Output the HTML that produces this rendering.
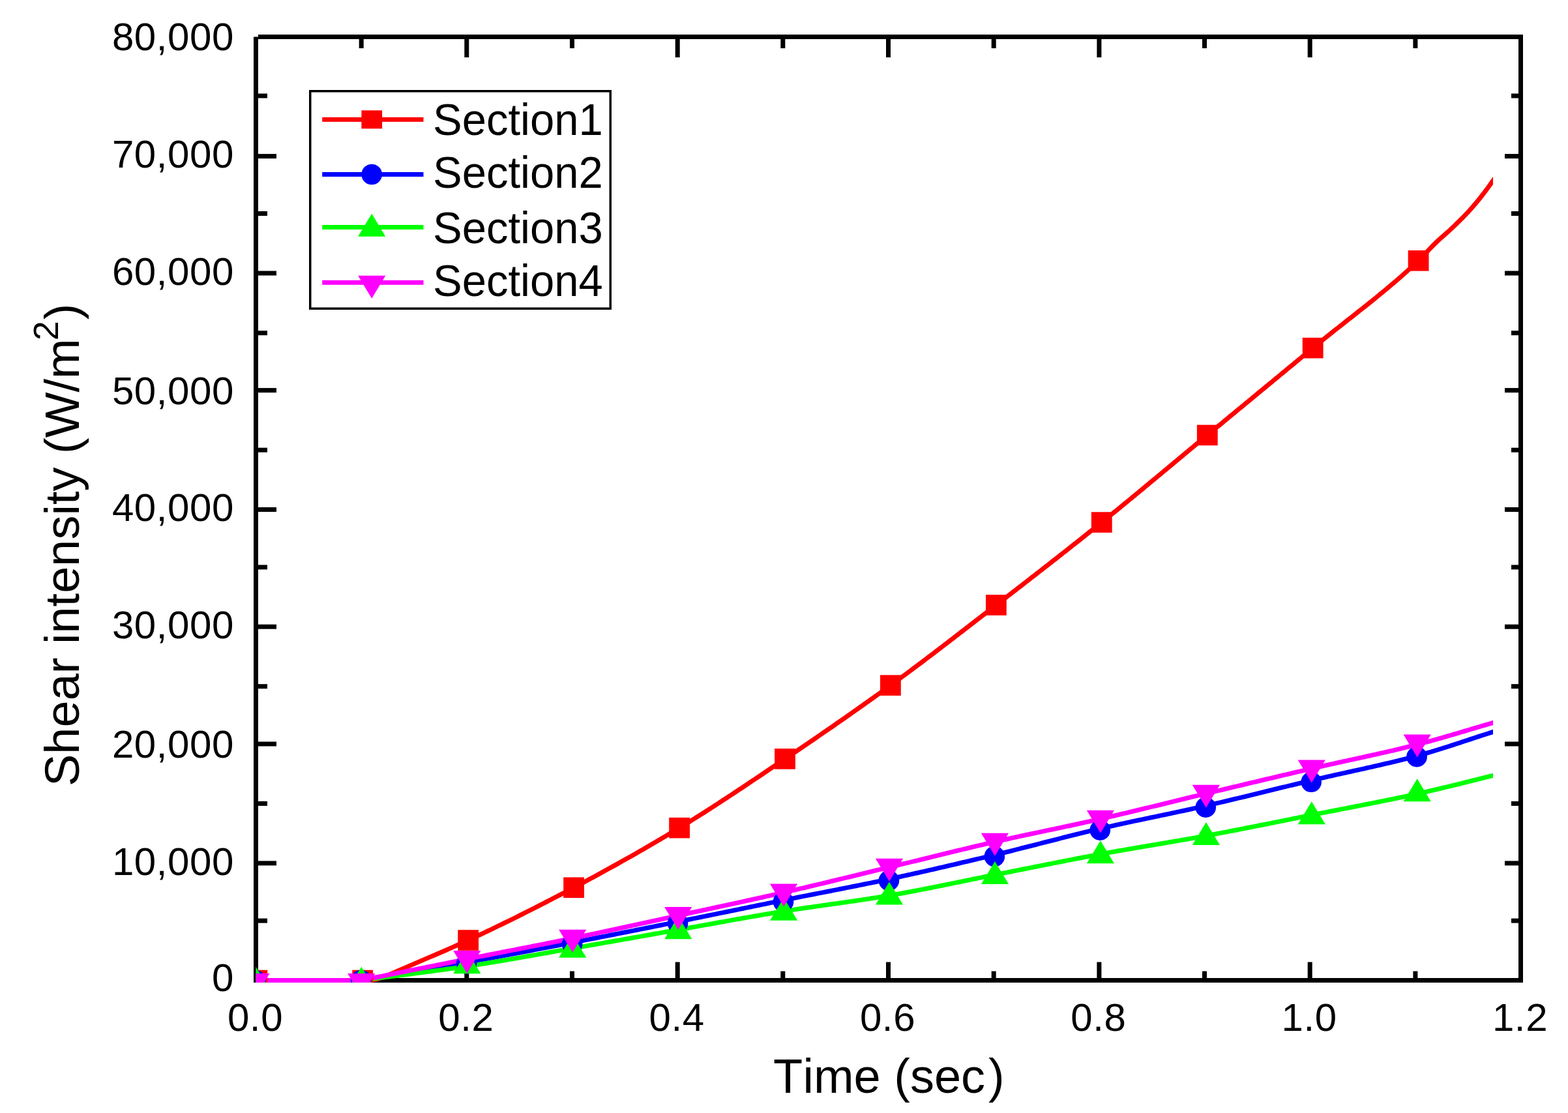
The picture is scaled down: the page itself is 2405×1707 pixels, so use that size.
<!DOCTYPE html>
<html><head><meta charset="utf-8"><title>Shear intensity vs time</title>
<style>html,body{margin:0;padding:0;background:#fff;overflow:hidden}svg{display:block}</style>
</head><body>
<svg width="2405" height="1707" viewBox="0 0 2405 1707">
<rect x="0" y="0" width="2405" height="1707" fill="#fff"/>
<g fill="#000">
<rect x="389" y="56.5" width="7" height="1450.5"/>
<rect x="396" y="53" width="1940" height="7"/>
<rect x="2329" y="53" width="7" height="1454"/>
<rect x="389" y="1500" width="1947" height="7"/>
<rect x="396" y="1408.6" width="14" height="7"/>
<rect x="2318" y="1408.6" width="11" height="7"/>
<rect x="396" y="1320.4" width="28" height="7"/>
<rect x="2308" y="1320.4" width="21" height="7"/>
<rect x="396" y="1228.9" width="14" height="7"/>
<rect x="2318" y="1228.9" width="11" height="7"/>
<rect x="396" y="1137.5" width="28" height="7"/>
<rect x="2308" y="1137.5" width="21" height="7"/>
<rect x="396" y="1049.2" width="14" height="7"/>
<rect x="2318" y="1049.2" width="11" height="7"/>
<rect x="396" y="957.7" width="28" height="7"/>
<rect x="2308" y="957.7" width="21" height="7"/>
<rect x="396" y="866.4" width="14" height="7"/>
<rect x="2318" y="866.4" width="11" height="7"/>
<rect x="396" y="778.0" width="28" height="7"/>
<rect x="2308" y="778.0" width="21" height="7"/>
<rect x="396" y="686.7" width="14" height="7"/>
<rect x="2318" y="686.7" width="11" height="7"/>
<rect x="396" y="595.1" width="28" height="7"/>
<rect x="2308" y="595.1" width="21" height="7"/>
<rect x="396" y="507.2" width="14" height="7"/>
<rect x="2318" y="507.2" width="11" height="7"/>
<rect x="396" y="415.5" width="28" height="7"/>
<rect x="2308" y="415.5" width="21" height="7"/>
<rect x="396" y="324.0" width="14" height="7"/>
<rect x="2318" y="324.0" width="11" height="7"/>
<rect x="396" y="236.1" width="28" height="7"/>
<rect x="2308" y="236.1" width="21" height="7"/>
<rect x="396" y="143.5" width="14" height="7"/>
<rect x="2318" y="143.5" width="11" height="7"/>
<rect x="550.7" y="60" width="7" height="14"/>
<rect x="550.7" y="1489.5" width="7" height="10.5"/>
<rect x="712.3" y="60" width="7" height="28"/>
<rect x="712.3" y="1475.5" width="7" height="24.5"/>
<rect x="874.0" y="60" width="7" height="14"/>
<rect x="874.0" y="1489.5" width="7" height="10.5"/>
<rect x="1035.7" y="60" width="7" height="28"/>
<rect x="1035.7" y="1475.5" width="7" height="24.5"/>
<rect x="1197.3" y="60" width="7" height="14"/>
<rect x="1197.3" y="1489.5" width="7" height="10.5"/>
<rect x="1359.0" y="60" width="7" height="28"/>
<rect x="1359.0" y="1475.5" width="7" height="24.5"/>
<rect x="1520.7" y="60" width="7" height="14"/>
<rect x="1520.7" y="1489.5" width="7" height="10.5"/>
<rect x="1682.4" y="60" width="7" height="28"/>
<rect x="1682.4" y="1475.5" width="7" height="24.5"/>
<rect x="1844.0" y="60" width="7" height="14"/>
<rect x="1844.0" y="1489.5" width="7" height="10.5"/>
<rect x="2005.7" y="60" width="7" height="28"/>
<rect x="2005.7" y="1475.5" width="7" height="24.5"/>
<rect x="2167.4" y="60" width="7" height="14"/>
<rect x="2167.4" y="1489.5" width="7" height="10.5"/>
</g>
<defs><clipPath id="pc"><rect x="392.5" y="56.5" width="1940" height="1450.5"/></clipPath><clipPath id="lc"><rect x="392.5" y="56.5" width="1897.5" height="1450.5"/></clipPath></defs>
<g clip-path="url(#lc)" stroke="none">
<polygon fill="#ff0000" points="392.50,1500.00 556.24,1500.00 560.18,1499.89 564.12,1499.80 568.06,1499.68 572.00,1499.48 576.33,1498.69 580.67,1497.29 585.00,1495.80 588.75,1494.44 592.50,1492.90 596.25,1491.29 600.00,1489.69 604.17,1487.88 608.33,1486.02 612.50,1484.18 616.56,1482.41 620.63,1480.64 624.69,1478.89 628.76,1477.14 632.82,1475.39 636.89,1473.65 640.95,1471.92 645.02,1470.18 649.08,1468.45 653.15,1466.72 657.21,1464.99 661.28,1463.25 665.34,1461.51 669.40,1459.77 673.47,1458.02 677.53,1456.27 681.60,1454.51 685.66,1452.74 689.73,1450.96 693.79,1449.17 697.86,1447.37 701.92,1445.55 705.99,1443.72 710.05,1441.88 714.12,1440.02 718.18,1438.14 722.23,1436.26 726.28,1434.38 730.33,1432.48 734.37,1430.58 738.42,1428.67 742.47,1426.75 746.52,1424.82 750.57,1422.89 754.62,1420.95 758.67,1419.00 762.71,1417.04 766.76,1415.07 770.81,1413.10 774.86,1411.12 778.91,1409.14 782.96,1407.14 787.00,1405.14 791.05,1403.14 795.10,1401.12 799.15,1399.10 803.20,1397.07 807.25,1395.04 811.30,1393.00 815.34,1390.95 819.39,1388.90 823.44,1386.83 827.49,1384.77 831.54,1382.69 835.59,1380.61 839.63,1378.53 843.68,1376.44 847.73,1374.34 851.78,1372.23 855.83,1370.12 859.88,1368.01 863.93,1365.88 867.97,1363.76 872.02,1361.62 876.07,1359.48 880.12,1357.34 884.17,1355.19 888.22,1353.03 892.27,1350.87 896.31,1348.70 900.36,1346.52 904.41,1344.34 908.46,1342.15 912.51,1339.95 916.56,1337.75 920.61,1335.54 924.65,1333.32 928.70,1331.09 932.75,1328.86 936.80,1326.62 940.85,1324.37 944.90,1322.12 948.94,1319.86 952.99,1317.59 957.04,1315.31 961.09,1313.03 965.14,1310.74 969.19,1308.44 973.24,1306.13 977.28,1303.81 981.33,1301.49 985.38,1299.16 989.43,1296.82 993.48,1294.47 997.53,1292.11 1001.58,1289.74 1005.62,1287.37 1009.67,1284.99 1013.72,1282.60 1017.77,1280.20 1021.82,1277.79 1025.87,1275.37 1029.91,1272.94 1033.96,1270.51 1038.01,1268.06 1042.06,1265.61 1046.11,1263.14 1050.16,1260.66 1054.21,1258.16 1058.25,1255.65 1062.30,1253.13 1066.35,1250.59 1070.40,1248.04 1074.45,1245.48 1078.50,1242.91 1082.55,1240.33 1086.59,1237.73 1090.64,1235.13 1094.69,1232.52 1098.74,1229.89 1102.79,1227.26 1106.84,1224.62 1110.88,1221.97 1114.93,1219.32 1118.98,1216.65 1123.03,1213.98 1127.08,1211.30 1131.13,1208.62 1135.18,1205.93 1139.22,1203.23 1143.27,1200.53 1147.32,1197.83 1151.37,1195.12 1155.42,1192.40 1159.47,1189.69 1163.52,1186.97 1167.56,1184.24 1171.61,1181.52 1175.66,1178.79 1179.71,1176.06 1183.76,1173.33 1187.81,1170.60 1191.85,1167.87 1195.90,1165.14 1199.95,1162.41 1204.00,1159.68 1208.05,1156.95 1212.10,1154.21 1216.15,1151.47 1220.19,1148.73 1224.24,1145.98 1228.29,1143.23 1232.34,1140.48 1236.39,1137.73 1240.44,1134.97 1244.49,1132.20 1248.53,1129.43 1252.58,1126.66 1256.63,1123.88 1260.68,1121.10 1264.73,1118.31 1268.78,1115.52 1272.82,1112.73 1276.87,1109.92 1280.92,1107.12 1284.97,1104.31 1289.02,1101.49 1293.07,1098.67 1297.12,1095.84 1301.16,1093.00 1305.21,1090.16 1309.26,1087.32 1313.31,1084.47 1317.36,1081.61 1321.41,1078.74 1325.45,1075.87 1329.50,1072.99 1333.55,1070.11 1337.60,1067.22 1341.65,1064.32 1345.70,1061.41 1349.75,1058.50 1353.79,1055.58 1357.84,1052.65 1361.89,1049.72 1365.94,1046.77 1369.99,1043.82 1374.04,1040.85 1378.09,1037.88 1382.13,1034.89 1386.18,1031.90 1390.23,1028.90 1394.28,1025.88 1398.33,1022.86 1402.38,1019.83 1406.42,1016.79 1410.47,1013.75 1414.52,1010.69 1418.57,1007.63 1422.62,1004.57 1426.67,1001.50 1430.72,998.42 1434.76,995.33 1438.81,992.24 1442.86,989.15 1446.91,986.05 1450.96,982.94 1455.01,979.84 1459.06,976.72 1463.10,973.61 1467.15,970.49 1471.20,967.37 1475.25,964.25 1479.30,961.12 1483.35,958.00 1487.39,954.87 1491.44,951.74 1495.49,948.61 1499.54,945.48 1503.59,942.35 1507.64,939.22 1511.69,936.09 1515.73,932.96 1519.78,929.83 1523.83,926.70 1527.88,923.58 1531.93,920.45 1535.98,917.33 1540.03,914.20 1544.07,911.07 1548.12,907.94 1552.17,904.81 1556.22,901.68 1560.27,898.55 1564.32,895.41 1568.37,892.27 1572.41,889.13 1576.46,885.99 1580.51,882.85 1584.56,879.70 1588.61,876.55 1592.66,873.40 1596.70,870.25 1600.75,867.09 1604.80,863.93 1608.85,860.76 1612.90,857.60 1616.95,854.42 1621.00,851.25 1625.04,848.07 1629.09,844.89 1633.14,841.70 1637.19,838.51 1641.24,835.32 1645.29,832.12 1649.34,828.92 1653.38,825.71 1657.43,822.50 1661.48,819.28 1665.53,816.06 1669.58,812.83 1673.63,809.60 1677.67,806.36 1681.72,803.11 1685.77,799.86 1689.82,796.61 1693.87,793.34 1697.92,790.07 1701.97,786.79 1706.01,783.50 1710.06,780.21 1714.11,776.91 1718.16,773.60 1722.21,770.28 1726.26,766.96 1730.31,763.64 1734.35,760.30 1738.40,756.97 1742.45,753.63 1746.50,750.28 1750.55,746.93 1754.60,743.58 1758.64,740.22 1762.69,736.86 1766.74,733.50 1770.79,730.14 1774.84,726.77 1778.89,723.40 1782.94,720.03 1786.98,716.66 1791.03,713.29 1795.08,709.92 1799.13,706.55 1803.18,703.18 1807.23,699.80 1811.28,696.43 1815.32,693.07 1819.37,689.70 1823.42,686.33 1827.47,682.97 1831.52,679.61 1835.57,676.25 1839.61,672.90 1843.66,669.55 1847.71,666.20 1851.76,662.86 1855.81,659.52 1859.86,656.18 1863.91,652.83 1867.95,649.49 1872.00,646.15 1876.05,642.81 1880.10,639.47 1884.15,636.12 1888.20,632.78 1892.24,629.44 1896.29,626.10 1900.34,622.76 1904.39,619.42 1908.44,616.07 1912.49,612.73 1916.54,609.39 1920.58,606.05 1924.63,602.71 1928.68,599.37 1932.73,596.02 1936.78,592.68 1940.83,589.34 1944.88,586.00 1948.92,582.66 1952.97,579.31 1957.02,575.97 1961.07,572.63 1965.12,569.29 1969.17,565.94 1973.22,562.60 1977.26,559.26 1981.31,555.91 1985.36,552.57 1989.41,549.23 1993.46,545.88 1997.51,542.54 2001.55,539.19 2005.60,535.85 2009.65,532.50 2013.70,529.16 2017.75,525.84 2021.80,522.54 2025.85,519.26 2029.89,516.00 2033.94,512.75 2037.99,509.52 2042.04,506.29 2046.09,503.08 2050.14,499.88 2054.18,496.68 2058.23,493.49 2062.28,490.31 2066.33,487.12 2070.38,483.93 2074.43,480.74 2078.48,477.55 2082.52,474.35 2086.57,471.14 2090.62,467.93 2094.67,464.70 2098.72,461.46 2102.77,458.20 2106.82,454.93 2110.86,451.64 2114.91,448.33 2118.96,444.99 2123.01,441.64 2127.06,438.25 2131.11,434.84 2135.16,431.40 2139.20,427.93 2143.25,424.43 2147.30,420.89 2151.35,417.31 2155.40,413.70 2159.45,410.04 2163.49,406.34 2167.54,402.60 2171.59,398.82 2175.64,394.94 2179.87,390.66 2184.09,386.16 2188.32,381.59 2192.55,377.07 2196.77,372.72 2201.00,368.61 2204.86,365.07 2208.71,361.62 2212.57,358.22 2216.43,354.83 2220.29,351.39 2224.14,347.85 2228.00,344.18 2231.67,340.62 2235.33,337.03 2239.00,333.37 2242.67,329.64 2246.33,325.81 2250.00,321.88 2253.75,317.73 2257.50,313.46 2261.25,309.06 2265.00,304.52 2269.33,299.08 2273.67,293.45 2278.00,287.68 2282.00,282.16 2286.00,276.56 2290.00,271.03 2294.00,265.55 2298.00,260.05 2298.00,271.95 2294.00,277.45 2290.00,282.97 2286.00,288.53 2282.00,294.03 2278.00,299.32 2273.67,304.88 2269.33,310.29 2265.00,315.48 2261.25,319.81 2257.50,324.04 2253.75,328.14 2250.00,332.12 2246.33,335.91 2242.67,339.62 2239.00,343.25 2235.33,346.82 2231.67,350.35 2228.00,353.82 2224.14,357.35 2220.29,360.78 2216.43,364.17 2212.57,367.57 2208.71,371.04 2204.86,374.63 2201.00,378.39 2196.77,382.75 2192.55,387.29 2188.32,391.85 2184.09,396.34 2179.87,400.62 2175.64,404.66 2171.59,408.40 2167.54,412.13 2163.49,415.82 2159.45,419.47 2155.40,423.08 2151.35,426.65 2147.30,430.18 2143.25,433.68 2139.20,437.15 2135.16,440.59 2131.11,443.99 2127.06,447.37 2123.01,450.73 2118.96,454.06 2114.91,457.37 2110.86,460.66 2106.82,463.93 2102.77,467.18 2098.72,470.42 2094.67,473.65 2090.62,476.87 2086.57,480.07 2082.52,483.27 2078.48,486.47 2074.43,489.65 2070.38,492.84 2066.33,496.03 2062.28,499.22 2058.23,502.41 2054.18,505.60 2050.14,508.81 2046.09,512.02 2042.04,515.24 2037.99,518.47 2033.94,521.72 2029.89,524.99 2025.85,528.27 2021.80,531.57 2017.75,534.89 2013.70,538.24 2009.65,541.58 2005.60,544.93 2001.55,548.27 1997.51,551.62 1993.46,554.96 1989.41,558.31 1985.36,561.65 1981.31,564.99 1977.26,568.34 1973.22,571.68 1969.17,575.02 1965.12,578.36 1961.07,581.71 1957.02,585.05 1952.97,588.39 1948.92,591.73 1944.88,595.08 1940.83,598.42 1936.78,601.76 1932.73,605.10 1928.68,608.44 1924.63,611.78 1920.58,615.13 1916.54,618.47 1912.49,621.81 1908.44,625.15 1904.39,628.49 1900.34,631.83 1896.29,635.18 1892.24,638.52 1888.20,641.86 1884.15,645.20 1880.10,648.54 1876.05,651.89 1872.00,655.23 1867.95,658.57 1863.91,661.91 1859.86,665.25 1855.81,668.60 1851.76,671.94 1847.71,675.29 1843.66,678.64 1839.61,681.99 1835.57,685.35 1831.52,688.71 1827.47,692.07 1823.42,695.44 1819.37,698.80 1815.32,702.17 1811.28,705.54 1807.23,708.91 1803.18,712.28 1799.13,715.66 1795.08,719.03 1791.03,722.40 1786.98,725.77 1782.94,729.14 1778.89,732.51 1774.84,735.87 1770.79,739.24 1766.74,742.60 1762.69,745.96 1758.64,749.31 1754.60,752.67 1750.55,756.02 1746.50,759.36 1742.45,762.70 1738.40,766.04 1734.35,769.37 1730.31,772.70 1726.26,776.02 1722.21,779.33 1718.16,782.64 1714.11,785.94 1710.06,789.23 1706.01,792.52 1701.97,795.80 1697.92,799.07 1693.87,802.34 1689.82,805.59 1685.77,808.84 1681.72,812.08 1677.67,815.32 1673.63,818.55 1669.58,821.78 1665.53,825.00 1661.48,828.22 1657.43,831.43 1653.38,834.64 1649.34,837.84 1645.29,841.04 1641.24,844.24 1637.19,847.43 1633.14,850.61 1629.09,853.79 1625.04,856.97 1621.00,860.15 1616.95,863.32 1612.90,866.48 1608.85,869.65 1604.80,872.81 1600.75,875.97 1596.70,879.12 1592.66,882.27 1588.61,885.42 1584.56,888.57 1580.51,891.71 1576.46,894.85 1572.41,897.99 1568.37,901.13 1564.32,904.27 1560.27,907.40 1556.22,910.53 1552.17,913.66 1548.12,916.79 1544.07,919.92 1540.03,923.05 1535.98,926.17 1531.93,929.30 1527.88,932.42 1523.83,935.55 1519.78,938.67 1515.73,941.80 1511.69,944.93 1507.64,948.06 1503.59,951.19 1499.54,954.33 1495.49,957.46 1491.44,960.58 1487.39,963.71 1483.35,966.84 1479.30,969.97 1475.25,973.09 1471.20,976.21 1467.15,979.33 1463.10,982.44 1459.06,985.55 1455.01,988.66 1450.96,991.76 1446.91,994.86 1442.86,997.96 1438.81,1001.05 1434.76,1004.13 1430.72,1007.21 1426.67,1010.28 1422.62,1013.35 1418.57,1016.41 1414.52,1019.46 1410.47,1022.51 1406.42,1025.54 1402.38,1028.57 1398.33,1031.60 1394.28,1034.61 1390.23,1037.61 1386.18,1040.61 1382.13,1043.59 1378.09,1046.57 1374.04,1049.53 1369.99,1052.48 1365.94,1055.43 1361.89,1058.36 1357.84,1061.29 1353.79,1064.21 1349.75,1067.12 1345.70,1070.03 1341.65,1072.93 1337.60,1075.82 1333.55,1078.70 1329.50,1081.58 1325.45,1084.45 1321.41,1087.32 1317.36,1090.18 1313.31,1093.03 1309.26,1095.87 1305.21,1098.71 1301.16,1101.55 1297.12,1104.38 1293.07,1107.20 1289.02,1110.02 1284.97,1112.83 1280.92,1115.64 1276.87,1118.44 1272.82,1121.23 1268.78,1124.02 1264.73,1126.81 1260.68,1129.59 1256.63,1132.37 1252.58,1135.14 1248.53,1137.91 1244.49,1140.68 1240.44,1143.44 1236.39,1146.19 1232.34,1148.95 1228.29,1151.70 1224.24,1154.44 1220.19,1157.18 1216.15,1159.92 1212.10,1162.66 1208.05,1165.39 1204.00,1168.12 1199.95,1170.85 1195.90,1173.58 1191.85,1176.31 1187.81,1179.04 1183.76,1181.77 1179.71,1184.50 1175.66,1187.23 1171.61,1189.96 1167.56,1192.68 1163.52,1195.40 1159.47,1198.12 1155.42,1200.83 1151.37,1203.54 1147.32,1206.25 1143.27,1208.95 1139.22,1211.64 1135.18,1214.33 1131.13,1217.02 1127.08,1219.70 1123.03,1222.37 1118.98,1225.03 1114.93,1227.69 1110.88,1230.34 1106.84,1232.98 1102.79,1235.61 1098.74,1238.24 1094.69,1240.85 1090.64,1243.45 1086.59,1246.05 1082.55,1248.63 1078.50,1251.20 1074.45,1253.76 1070.40,1256.31 1066.35,1258.85 1062.30,1261.37 1058.25,1263.89 1054.21,1266.38 1050.16,1268.87 1046.11,1271.34 1042.06,1273.79 1038.01,1276.24 1033.96,1278.68 1029.91,1281.10 1025.87,1283.52 1021.82,1285.93 1017.77,1288.33 1013.72,1290.73 1009.67,1293.11 1005.62,1295.49 1001.58,1297.85 997.53,1300.21 993.48,1302.56 989.43,1304.90 985.38,1307.24 981.33,1309.56 977.28,1311.88 973.24,1314.19 969.19,1316.49 965.14,1318.78 961.09,1321.07 957.04,1323.34 952.99,1325.62 948.94,1327.88 944.90,1330.13 940.85,1332.38 936.80,1334.62 932.75,1336.85 928.70,1339.08 924.65,1341.30 920.61,1343.51 916.56,1345.72 912.51,1347.91 908.46,1350.11 904.41,1352.29 900.36,1354.47 896.31,1356.64 892.27,1358.80 888.22,1360.96 884.17,1363.12 880.12,1365.26 876.07,1367.40 872.02,1369.54 867.97,1371.66 863.93,1373.79 859.88,1375.90 855.83,1378.02 851.78,1380.12 847.73,1382.22 843.68,1384.32 839.63,1386.40 835.59,1388.48 831.54,1390.56 827.49,1392.63 823.44,1394.69 819.39,1396.75 815.34,1398.80 811.30,1400.84 807.25,1402.87 803.20,1404.90 799.15,1406.93 795.10,1408.94 791.05,1410.95 787.00,1412.95 782.96,1414.95 778.91,1416.94 774.86,1418.92 770.81,1420.89 766.76,1422.86 762.71,1424.81 758.67,1426.77 754.62,1428.71 750.57,1430.65 746.52,1432.57 742.47,1434.50 738.42,1436.41 734.37,1438.31 730.33,1440.21 726.28,1442.10 722.23,1443.98 718.18,1445.86 714.12,1447.72 710.05,1449.57 705.99,1451.40 701.92,1453.22 697.86,1455.03 693.79,1456.82 689.73,1458.60 685.66,1460.38 681.60,1462.14 677.53,1463.89 673.47,1465.64 669.40,1467.39 665.34,1469.13 661.28,1470.86 657.21,1472.60 653.15,1474.33 649.08,1476.06 645.02,1477.79 640.95,1479.53 636.89,1481.27 632.82,1483.01 628.76,1484.76 624.69,1486.51 620.63,1488.27 616.56,1490.04 612.50,1491.82 608.33,1493.68 604.17,1495.52 600.00,1497.31 596.25,1498.90 592.50,1500.47 588.75,1501.92 585.00,1503.20 580.67,1504.65 576.33,1505.88 572.00,1506.52 568.06,1506.69 564.12,1506.80 560.18,1506.90 556.24,1507.00 392.50,1507.00"/>
<polygon fill="#0000ff" points="392.50,1500.00 553.74,1499.99 557.79,1499.26 561.84,1498.58 565.89,1497.89 569.93,1497.21 573.98,1496.53 578.03,1495.85 582.08,1495.17 586.13,1494.49 590.18,1493.82 594.23,1493.14 598.27,1492.46 602.32,1491.79 606.37,1491.11 610.42,1490.43 614.47,1489.76 618.52,1489.08 622.56,1488.40 626.61,1487.72 630.66,1487.05 634.71,1486.37 638.76,1485.69 642.81,1485.01 646.86,1484.33 650.90,1483.64 654.95,1482.96 659.00,1482.27 663.05,1481.58 667.10,1480.90 671.15,1480.20 675.20,1479.51 679.24,1478.82 683.29,1478.12 687.34,1477.42 691.39,1476.72 695.44,1476.01 699.49,1475.30 703.53,1474.59 707.58,1473.88 711.63,1473.16 715.68,1472.44 719.73,1471.72 723.78,1471.00 727.83,1470.27 731.87,1469.54 735.92,1468.81 739.97,1468.07 744.02,1467.34 748.07,1466.60 752.12,1465.85 756.17,1465.11 760.21,1464.37 764.26,1463.62 768.31,1462.87 772.36,1462.12 776.41,1461.37 780.46,1460.61 784.50,1459.85 788.55,1459.10 792.60,1458.34 796.65,1457.58 800.70,1456.81 804.75,1456.05 808.80,1455.28 812.84,1454.52 816.89,1453.75 820.94,1452.98 824.99,1452.21 829.04,1451.44 833.09,1450.67 837.13,1449.90 841.18,1449.12 845.23,1448.35 849.28,1447.57 853.33,1446.80 857.38,1446.02 861.43,1445.25 865.47,1444.47 869.52,1443.69 873.57,1442.91 877.62,1442.14 881.67,1441.36 885.72,1440.58 889.77,1439.79 893.81,1439.01 897.86,1438.23 901.91,1437.44 905.96,1436.65 910.01,1435.86 914.06,1435.07 918.11,1434.28 922.15,1433.49 926.20,1432.69 930.25,1431.90 934.30,1431.10 938.35,1430.30 942.40,1429.51 946.44,1428.71 950.49,1427.91 954.54,1427.10 958.59,1426.30 962.64,1425.50 966.69,1424.70 970.74,1423.89 974.78,1423.09 978.83,1422.28 982.88,1421.47 986.93,1420.67 990.98,1419.86 995.03,1419.05 999.08,1418.24 1003.12,1417.43 1007.17,1416.62 1011.22,1415.81 1015.27,1415.00 1019.32,1414.19 1023.37,1413.38 1027.41,1412.57 1031.46,1411.75 1035.51,1410.94 1039.56,1410.13 1043.61,1409.32 1047.66,1408.50 1051.71,1407.69 1055.75,1406.87 1059.80,1406.05 1063.85,1405.23 1067.90,1404.41 1071.95,1403.58 1076.00,1402.76 1080.05,1401.94 1084.09,1401.11 1088.14,1400.28 1092.19,1399.46 1096.24,1398.63 1100.29,1397.80 1104.34,1396.97 1108.38,1396.14 1112.43,1395.31 1116.48,1394.48 1120.53,1393.65 1124.58,1392.82 1128.63,1391.99 1132.68,1391.16 1136.72,1390.33 1140.77,1389.50 1144.82,1388.67 1148.87,1387.84 1152.92,1387.01 1156.97,1386.19 1161.02,1385.36 1165.06,1384.53 1169.11,1383.71 1173.16,1382.88 1177.21,1382.06 1181.26,1381.23 1185.31,1380.41 1189.35,1379.59 1193.40,1378.77 1197.45,1377.95 1201.50,1377.13 1205.55,1376.31 1209.60,1375.50 1213.65,1374.69 1217.69,1373.89 1221.74,1373.08 1225.79,1372.28 1229.84,1371.48 1233.89,1370.68 1237.94,1369.89 1241.99,1369.09 1246.03,1368.30 1250.08,1367.51 1254.13,1366.72 1258.18,1365.92 1262.23,1365.13 1266.28,1364.34 1270.32,1363.55 1274.37,1362.76 1278.42,1361.96 1282.47,1361.17 1286.52,1360.37 1290.57,1359.58 1294.62,1358.78 1298.66,1357.98 1302.71,1357.18 1306.76,1356.37 1310.81,1355.56 1314.86,1354.75 1318.91,1353.94 1322.95,1353.12 1327.00,1352.30 1331.05,1351.48 1335.10,1350.65 1339.15,1349.82 1343.20,1348.98 1347.25,1348.14 1351.29,1347.29 1355.34,1346.44 1359.39,1345.58 1363.44,1344.72 1367.49,1343.85 1371.54,1342.98 1375.59,1342.11 1379.63,1341.23 1383.68,1340.34 1387.73,1339.45 1391.78,1338.56 1395.83,1337.67 1399.88,1336.77 1403.92,1335.86 1407.97,1334.96 1412.02,1334.05 1416.07,1333.14 1420.12,1332.22 1424.17,1331.30 1428.22,1330.38 1432.26,1329.45 1436.31,1328.53 1440.36,1327.60 1444.41,1326.66 1448.46,1325.73 1452.51,1324.79 1456.56,1323.85 1460.60,1322.91 1464.65,1321.96 1468.70,1321.02 1472.75,1320.07 1476.80,1319.12 1480.85,1318.17 1484.89,1317.21 1488.94,1316.26 1492.99,1315.30 1497.04,1314.34 1501.09,1313.38 1505.14,1312.42 1509.19,1311.46 1513.23,1310.50 1517.28,1309.53 1521.33,1308.57 1525.38,1307.60 1529.43,1306.63 1533.48,1305.65 1537.53,1304.67 1541.57,1303.68 1545.62,1302.68 1549.67,1301.68 1553.72,1300.67 1557.77,1299.65 1561.82,1298.64 1565.87,1297.62 1569.91,1296.59 1573.96,1295.57 1578.01,1294.54 1582.06,1293.50 1586.11,1292.47 1590.16,1291.44 1594.20,1290.40 1598.25,1289.36 1602.30,1288.33 1606.35,1287.29 1610.40,1286.26 1614.45,1285.22 1618.50,1284.19 1622.54,1283.16 1626.59,1282.13 1630.64,1281.11 1634.69,1280.09 1638.74,1279.07 1642.79,1278.06 1646.84,1277.05 1650.88,1276.04 1654.93,1275.05 1658.98,1274.05 1663.03,1273.07 1667.08,1272.09 1671.13,1271.12 1675.17,1270.15 1679.22,1269.20 1683.27,1268.25 1687.32,1267.31 1691.37,1266.38 1695.42,1265.45 1699.47,1264.54 1703.51,1263.63 1707.56,1262.73 1711.61,1261.83 1715.66,1260.95 1719.71,1260.06 1723.76,1259.18 1727.81,1258.31 1731.85,1257.44 1735.90,1256.58 1739.95,1255.71 1744.00,1254.86 1748.05,1254.00 1752.10,1253.15 1756.14,1252.29 1760.19,1251.44 1764.24,1250.60 1768.29,1249.75 1772.34,1248.90 1776.39,1248.05 1780.44,1247.20 1784.48,1246.35 1788.53,1245.50 1792.58,1244.65 1796.63,1243.80 1800.68,1242.94 1804.73,1242.08 1808.78,1241.22 1812.82,1240.35 1816.87,1239.48 1820.92,1238.60 1824.97,1237.72 1829.02,1236.83 1833.07,1235.94 1837.11,1235.05 1841.16,1234.14 1845.21,1233.23 1849.26,1232.31 1853.31,1231.39 1857.36,1230.45 1861.41,1229.52 1865.45,1228.58 1869.50,1227.63 1873.55,1226.68 1877.60,1225.73 1881.65,1224.77 1885.70,1223.80 1889.74,1222.84 1893.79,1221.87 1897.84,1220.89 1901.89,1219.92 1905.94,1218.94 1909.99,1217.96 1914.04,1216.98 1918.08,1215.99 1922.13,1215.00 1926.18,1214.02 1930.23,1213.03 1934.28,1212.04 1938.33,1211.05 1942.38,1210.06 1946.42,1209.07 1950.47,1208.08 1954.52,1207.09 1958.57,1206.10 1962.62,1205.11 1966.67,1204.12 1970.72,1203.13 1974.76,1202.15 1978.81,1201.17 1982.86,1200.19 1986.91,1199.21 1990.96,1198.23 1995.01,1197.26 1999.05,1196.29 2003.10,1195.32 2007.15,1194.36 2011.20,1193.40 2015.25,1192.45 2019.30,1191.51 2023.35,1190.57 2027.39,1189.65 2031.44,1188.72 2035.49,1187.81 2039.54,1186.90 2043.59,1185.99 2047.64,1185.09 2051.68,1184.19 2055.73,1183.29 2059.78,1182.40 2063.83,1181.50 2067.88,1180.61 2071.93,1179.72 2075.98,1178.83 2080.02,1177.93 2084.07,1177.04 2088.12,1176.14 2092.17,1175.24 2096.22,1174.34 2100.27,1173.43 2104.32,1172.52 2108.36,1171.60 2112.41,1170.67 2116.46,1169.74 2120.51,1168.81 2124.56,1167.86 2128.61,1166.91 2132.66,1165.94 2136.70,1164.97 2140.75,1163.99 2144.80,1162.99 2148.85,1161.99 2152.90,1160.97 2156.95,1159.94 2160.99,1158.89 2165.04,1157.84 2169.09,1156.76 2173.14,1155.67 2177.17,1154.57 2181.20,1153.44 2185.23,1152.29 2189.26,1151.12 2193.29,1149.93 2197.32,1148.72 2201.35,1147.49 2205.38,1146.25 2209.41,1144.99 2213.44,1143.72 2217.47,1142.44 2221.50,1141.14 2225.53,1139.84 2229.56,1138.53 2233.58,1137.22 2237.61,1135.90 2241.64,1134.57 2245.67,1133.24 2249.70,1131.91 2253.73,1130.58 2257.76,1129.26 2261.79,1127.93 2265.82,1126.61 2269.85,1125.29 2273.88,1123.98 2277.91,1122.68 2281.94,1121.39 2285.97,1120.10 2290.00,1118.83 2294.00,1117.57 2298.00,1116.31 2298.00,1123.65 2294.00,1124.91 2290.00,1126.17 2285.97,1127.45 2281.94,1128.74 2277.91,1130.04 2273.88,1131.34 2269.85,1132.66 2265.82,1133.98 2261.79,1135.30 2257.76,1136.63 2253.73,1137.96 2249.70,1139.29 2245.67,1140.61 2241.64,1141.94 2237.61,1143.26 2233.58,1144.58 2229.56,1145.89 2225.53,1147.20 2221.50,1148.50 2217.47,1149.78 2213.44,1151.06 2209.41,1152.32 2205.38,1153.57 2201.35,1154.81 2197.32,1156.03 2193.29,1157.23 2189.26,1158.41 2185.23,1159.57 2181.20,1160.71 2177.17,1161.83 2173.14,1162.93 2169.09,1164.01 2165.04,1165.07 2160.99,1166.13 2156.95,1167.16 2152.90,1168.19 2148.85,1169.20 2144.80,1170.20 2140.75,1171.19 2136.70,1172.17 2132.66,1173.14 2128.61,1174.10 2124.56,1175.05 2120.51,1175.99 2116.46,1176.93 2112.41,1177.86 2108.36,1178.78 2104.32,1179.69 2100.27,1180.60 2096.22,1181.51 2092.17,1182.41 2088.12,1183.31 2084.07,1184.21 2080.02,1185.10 2075.98,1186.00 2071.93,1186.89 2067.88,1187.78 2063.83,1188.67 2059.78,1189.57 2055.73,1190.46 2051.68,1191.36 2047.64,1192.26 2043.59,1193.16 2039.54,1194.07 2035.49,1194.98 2031.44,1195.90 2027.39,1196.83 2023.35,1197.76 2019.30,1198.70 2015.25,1199.64 2011.20,1200.60 2007.15,1201.56 2003.10,1202.52 1999.05,1203.49 1995.01,1204.46 1990.96,1205.43 1986.91,1206.41 1982.86,1207.39 1978.81,1208.37 1974.76,1209.35 1970.72,1210.34 1966.67,1211.32 1962.62,1212.31 1958.57,1213.30 1954.52,1214.29 1950.47,1215.28 1946.42,1216.27 1942.38,1217.26 1938.33,1218.25 1934.28,1219.24 1930.23,1220.23 1926.18,1221.22 1922.13,1222.21 1918.08,1223.19 1914.04,1224.18 1909.99,1225.16 1905.94,1226.14 1901.89,1227.12 1897.84,1228.09 1893.79,1229.07 1889.74,1230.03 1885.70,1231.00 1881.65,1231.96 1877.60,1232.92 1873.55,1233.87 1869.50,1234.82 1865.45,1235.76 1861.41,1236.70 1857.36,1237.64 1853.31,1238.57 1849.26,1239.49 1845.21,1240.41 1841.16,1241.31 1837.11,1242.22 1833.07,1243.11 1829.02,1244.00 1824.97,1244.89 1820.92,1245.76 1816.87,1246.64 1812.82,1247.51 1808.78,1248.37 1804.73,1249.24 1800.68,1250.09 1796.63,1250.95 1792.58,1251.80 1788.53,1252.66 1784.48,1253.51 1780.44,1254.35 1776.39,1255.20 1772.34,1256.05 1768.29,1256.90 1764.24,1257.75 1760.19,1258.60 1756.14,1259.45 1752.10,1260.30 1748.05,1261.15 1744.00,1262.01 1739.95,1262.87 1735.90,1263.73 1731.85,1264.60 1727.81,1265.47 1723.76,1266.35 1719.71,1267.23 1715.66,1268.11 1711.61,1269.00 1707.56,1269.90 1703.51,1270.80 1699.47,1271.71 1695.42,1272.63 1691.37,1273.56 1687.32,1274.49 1683.27,1275.44 1679.22,1276.39 1675.17,1277.35 1671.13,1278.31 1667.08,1279.29 1663.03,1280.27 1658.98,1281.26 1654.93,1282.25 1650.88,1283.26 1646.84,1284.26 1642.79,1285.27 1638.74,1286.29 1634.69,1287.31 1630.64,1288.33 1626.59,1289.35 1622.54,1290.38 1618.50,1291.41 1614.45,1292.45 1610.40,1293.48 1606.35,1294.52 1602.30,1295.55 1598.25,1296.59 1594.20,1297.62 1590.16,1298.66 1586.11,1299.69 1582.06,1300.73 1578.01,1301.76 1573.96,1302.79 1569.91,1303.81 1565.87,1304.84 1561.82,1305.86 1557.77,1306.87 1553.72,1307.88 1549.67,1308.89 1545.62,1309.89 1541.57,1310.88 1537.53,1311.87 1533.48,1312.85 1529.43,1313.83 1525.38,1314.80 1521.33,1315.76 1517.28,1316.73 1513.23,1317.69 1509.19,1318.65 1505.14,1319.62 1501.09,1320.58 1497.04,1321.54 1492.99,1322.49 1488.94,1323.45 1484.89,1324.40 1480.85,1325.36 1476.80,1326.31 1472.75,1327.26 1468.70,1328.21 1464.65,1329.15 1460.60,1330.10 1456.56,1331.04 1452.51,1331.98 1448.46,1332.91 1444.41,1333.85 1440.36,1334.78 1436.31,1335.71 1432.26,1336.63 1428.22,1337.56 1424.17,1338.48 1420.12,1339.40 1416.07,1340.31 1412.02,1341.22 1407.97,1342.13 1403.92,1343.04 1399.88,1343.94 1395.83,1344.84 1391.78,1345.73 1387.73,1346.62 1383.68,1347.51 1379.63,1348.39 1375.59,1349.27 1371.54,1350.14 1367.49,1351.01 1363.44,1351.88 1359.39,1352.74 1355.34,1353.60 1351.29,1354.45 1347.25,1355.29 1343.20,1356.13 1339.15,1356.97 1335.10,1357.80 1331.05,1358.62 1327.00,1359.45 1322.95,1360.26 1318.91,1361.08 1314.86,1361.89 1310.81,1362.70 1306.76,1363.51 1302.71,1364.31 1298.66,1365.11 1294.62,1365.91 1290.57,1366.71 1286.52,1367.51 1282.47,1368.30 1278.42,1369.10 1274.37,1369.89 1270.32,1370.68 1266.28,1371.47 1262.23,1372.27 1258.18,1373.06 1254.13,1373.85 1250.08,1374.64 1246.03,1375.43 1241.99,1376.23 1237.94,1377.02 1233.89,1377.82 1229.84,1378.62 1225.79,1379.42 1221.74,1380.22 1217.69,1381.02 1213.65,1381.83 1209.60,1382.64 1205.55,1383.45 1201.50,1384.27 1197.45,1385.09 1193.40,1385.91 1189.35,1386.73 1185.31,1387.55 1181.26,1388.37 1177.21,1389.20 1173.16,1390.02 1169.11,1390.85 1165.06,1391.68 1161.02,1392.50 1156.97,1393.33 1152.92,1394.16 1148.87,1394.99 1144.82,1395.82 1140.77,1396.65 1136.72,1397.48 1132.68,1398.31 1128.63,1399.14 1124.58,1399.97 1120.53,1400.80 1116.48,1401.63 1112.43,1402.46 1108.38,1403.29 1104.34,1404.12 1100.29,1404.95 1096.24,1405.77 1092.19,1406.60 1088.14,1407.43 1084.09,1408.25 1080.05,1409.08 1076.00,1409.90 1071.95,1410.73 1067.90,1411.55 1063.85,1412.37 1059.80,1413.19 1055.75,1414.01 1051.71,1414.83 1047.66,1415.64 1043.61,1416.46 1039.56,1417.27 1035.51,1418.08 1031.46,1418.89 1027.41,1419.71 1023.37,1420.52 1019.32,1421.33 1015.27,1422.14 1011.22,1422.95 1007.17,1423.76 1003.12,1424.57 999.08,1425.38 995.03,1426.19 990.98,1427.00 986.93,1427.80 982.88,1428.61 978.83,1429.42 974.78,1430.22 970.74,1431.03 966.69,1431.83 962.64,1432.64 958.59,1433.44 954.54,1434.24 950.49,1435.04 946.44,1435.84 942.40,1436.64 938.35,1437.44 934.30,1438.24 930.25,1439.03 926.20,1439.83 922.15,1440.62 918.11,1441.41 914.06,1442.20 910.01,1442.99 905.96,1443.78 901.91,1444.57 897.86,1445.36 893.81,1446.14 889.77,1446.92 885.72,1447.71 881.67,1448.49 877.62,1449.26 873.57,1450.04 869.52,1450.82 865.47,1451.60 861.43,1452.37 857.38,1453.15 853.33,1453.93 849.28,1454.70 845.23,1455.48 841.18,1456.25 837.13,1457.02 833.09,1457.80 829.04,1458.57 824.99,1459.34 820.94,1460.11 816.89,1460.88 812.84,1461.64 808.80,1462.41 804.75,1463.17 800.70,1463.94 796.65,1464.70 792.60,1465.46 788.55,1466.22 784.50,1466.98 780.46,1467.73 776.41,1468.49 772.36,1469.24 768.31,1469.99 764.26,1470.74 760.21,1471.48 756.17,1472.23 752.12,1472.97 748.07,1473.71 744.02,1474.45 739.97,1475.19 735.92,1475.92 731.87,1476.65 727.83,1477.38 723.78,1478.11 719.73,1478.83 715.68,1479.56 711.63,1480.27 707.58,1480.99 703.53,1481.70 699.49,1482.41 695.44,1483.12 691.39,1483.82 687.34,1484.52 683.29,1485.22 679.24,1485.92 675.20,1486.61 671.15,1487.31 667.10,1488.00 663.05,1488.68 659.00,1489.37 654.95,1490.06 650.90,1490.74 646.86,1491.42 642.81,1492.11 638.76,1492.79 634.71,1493.47 630.66,1494.14 626.61,1494.82 622.56,1495.50 618.52,1496.18 614.47,1496.85 610.42,1497.53 606.37,1498.21 602.32,1498.88 598.27,1499.56 594.23,1500.24 590.18,1500.91 586.13,1501.59 582.08,1502.27 578.03,1502.95 573.98,1503.63 569.93,1504.31 565.89,1504.99 561.84,1505.68 557.79,1506.36 553.74,1507.01 392.50,1507.00"/>
<polygon fill="#00ff00" points="392.50,1500.00 554.34,1499.99 558.39,1499.43 562.44,1498.90 566.49,1498.37 570.53,1497.84 574.58,1497.32 578.63,1496.80 582.68,1496.28 586.73,1495.76 590.78,1495.24 594.83,1494.72 598.87,1494.20 602.92,1493.69 606.97,1493.17 611.02,1492.66 615.07,1492.14 619.12,1491.62 623.16,1491.11 627.21,1490.59 631.26,1490.07 635.31,1489.55 639.36,1489.03 643.41,1488.50 647.46,1487.98 651.50,1487.45 655.55,1486.92 659.60,1486.38 663.65,1485.85 667.70,1485.31 671.75,1484.76 675.80,1484.21 679.84,1483.66 683.89,1483.10 687.94,1482.54 691.99,1481.98 696.04,1481.40 700.09,1480.83 704.13,1480.25 708.18,1479.66 712.23,1479.06 716.28,1478.46 720.33,1477.85 724.38,1477.24 728.43,1476.61 732.47,1475.98 736.52,1475.35 740.57,1474.71 744.62,1474.06 748.67,1473.40 752.72,1472.74 756.77,1472.07 760.81,1471.40 764.86,1470.73 768.91,1470.05 772.96,1469.36 777.01,1468.67 781.06,1467.98 785.10,1467.29 789.15,1466.59 793.20,1465.88 797.25,1465.18 801.30,1464.47 805.35,1463.76 809.40,1463.05 813.44,1462.34 817.49,1461.63 821.54,1460.91 825.59,1460.20 829.64,1459.48 833.69,1458.76 837.74,1458.05 841.78,1457.33 845.83,1456.62 849.88,1455.90 853.93,1455.19 857.98,1454.48 862.03,1453.77 866.07,1453.06 870.12,1452.35 874.17,1451.65 878.22,1450.95 882.27,1450.25 886.32,1449.55 890.37,1448.84 894.41,1448.14 898.46,1447.43 902.51,1446.73 906.56,1446.02 910.61,1445.31 914.66,1444.60 918.71,1443.89 922.75,1443.18 926.80,1442.47 930.85,1441.76 934.90,1441.04 938.95,1440.33 943.00,1439.61 947.04,1438.90 951.09,1438.18 955.14,1437.47 959.19,1436.75 963.24,1436.04 967.29,1435.32 971.34,1434.60 975.38,1433.89 979.43,1433.17 983.48,1432.45 987.53,1431.74 991.58,1431.02 995.63,1430.30 999.68,1429.59 1003.72,1428.87 1007.77,1428.16 1011.82,1427.44 1015.87,1426.73 1019.92,1426.01 1023.97,1425.30 1028.01,1424.58 1032.06,1423.87 1036.11,1423.16 1040.16,1422.45 1044.21,1421.73 1048.26,1421.02 1052.31,1420.30 1056.35,1419.58 1060.40,1418.86 1064.45,1418.14 1068.50,1417.41 1072.55,1416.69 1076.60,1415.96 1080.64,1415.23 1084.69,1414.50 1088.74,1413.77 1092.79,1413.04 1096.84,1412.32 1100.89,1411.59 1104.94,1410.86 1108.98,1410.13 1113.03,1409.40 1117.08,1408.68 1121.13,1407.95 1125.18,1407.23 1129.23,1406.51 1133.28,1405.79 1137.32,1405.07 1141.37,1404.36 1145.42,1403.65 1149.47,1402.94 1153.52,1402.23 1157.57,1401.53 1161.62,1400.83 1165.66,1400.13 1169.71,1399.44 1173.76,1398.75 1177.81,1398.06 1181.86,1397.38 1185.91,1396.71 1189.95,1396.04 1194.00,1395.37 1198.05,1394.71 1202.10,1394.05 1206.15,1393.41 1210.20,1392.77 1214.25,1392.14 1218.29,1391.51 1222.34,1390.89 1226.39,1390.28 1230.44,1389.68 1234.49,1389.08 1238.54,1388.48 1242.59,1387.89 1246.63,1387.31 1250.68,1386.72 1254.73,1386.14 1258.78,1385.57 1262.83,1384.99 1266.88,1384.42 1270.92,1383.85 1274.97,1383.27 1279.02,1382.70 1283.07,1382.13 1287.12,1381.56 1291.17,1380.98 1295.22,1380.41 1299.26,1379.83 1303.31,1379.24 1307.36,1378.66 1311.41,1378.07 1315.46,1377.48 1319.51,1376.88 1323.55,1376.28 1327.60,1375.67 1331.65,1375.05 1335.70,1374.43 1339.75,1373.80 1343.80,1373.17 1347.85,1372.52 1351.89,1371.87 1355.94,1371.20 1359.99,1370.53 1364.04,1369.85 1368.09,1369.16 1372.14,1368.45 1376.19,1367.74 1380.23,1367.02 1384.28,1366.29 1388.33,1365.55 1392.38,1364.80 1396.43,1364.04 1400.48,1363.28 1404.52,1362.51 1408.57,1361.73 1412.62,1360.95 1416.67,1360.16 1420.72,1359.37 1424.77,1358.57 1428.82,1357.76 1432.86,1356.96 1436.91,1356.14 1440.96,1355.33 1445.01,1354.51 1449.06,1353.69 1453.11,1352.87 1457.16,1352.04 1461.20,1351.22 1465.25,1350.39 1469.30,1349.56 1473.35,1348.73 1477.40,1347.91 1481.45,1347.08 1485.49,1346.25 1489.54,1345.43 1493.59,1344.60 1497.64,1343.78 1501.69,1342.97 1505.74,1342.15 1509.79,1341.34 1513.83,1340.53 1517.88,1339.73 1521.93,1338.93 1525.98,1338.13 1530.03,1337.34 1534.08,1336.54 1538.13,1335.75 1542.17,1334.95 1546.22,1334.14 1550.27,1333.34 1554.32,1332.54 1558.37,1331.73 1562.42,1330.93 1566.46,1330.12 1570.51,1329.31 1574.56,1328.50 1578.61,1327.70 1582.66,1326.89 1586.71,1326.08 1590.76,1325.27 1594.80,1324.47 1598.85,1323.66 1602.90,1322.85 1606.95,1322.05 1611.00,1321.25 1615.05,1320.44 1619.10,1319.64 1623.14,1318.85 1627.19,1318.05 1631.24,1317.25 1635.29,1316.46 1639.34,1315.67 1643.39,1314.88 1647.43,1314.10 1651.48,1313.32 1655.53,1312.54 1659.58,1311.76 1663.63,1310.99 1667.68,1310.22 1671.73,1309.46 1675.77,1308.70 1679.82,1307.94 1683.87,1307.19 1687.92,1306.44 1691.97,1305.70 1696.02,1304.96 1700.07,1304.23 1704.11,1303.51 1708.16,1302.79 1712.21,1302.07 1716.26,1301.36 1720.31,1300.65 1724.36,1299.95 1728.40,1299.25 1732.45,1298.55 1736.50,1297.85 1740.55,1297.16 1744.60,1296.47 1748.65,1295.78 1752.70,1295.10 1756.74,1294.41 1760.79,1293.72 1764.84,1293.04 1768.89,1292.36 1772.94,1291.67 1776.99,1290.99 1781.04,1290.30 1785.08,1289.62 1789.13,1288.93 1793.18,1288.24 1797.23,1287.55 1801.28,1286.85 1805.33,1286.16 1809.38,1285.46 1813.42,1284.76 1817.47,1284.05 1821.52,1283.34 1825.57,1282.63 1829.62,1281.91 1833.67,1281.19 1837.71,1280.46 1841.76,1279.73 1845.81,1278.99 1849.86,1278.24 1853.91,1277.49 1857.96,1276.74 1862.01,1275.98 1866.05,1275.22 1870.10,1274.45 1874.15,1273.68 1878.20,1272.91 1882.25,1272.13 1886.30,1271.35 1890.34,1270.57 1894.39,1269.78 1898.44,1269.00 1902.49,1268.21 1906.54,1267.41 1910.59,1266.62 1914.64,1265.82 1918.68,1265.02 1922.73,1264.22 1926.78,1263.42 1930.83,1262.61 1934.88,1261.81 1938.93,1261.00 1942.98,1260.19 1947.02,1259.38 1951.07,1258.57 1955.12,1257.76 1959.17,1256.95 1963.22,1256.14 1967.27,1255.33 1971.32,1254.52 1975.36,1253.71 1979.41,1252.90 1983.46,1252.08 1987.51,1251.27 1991.56,1250.46 1995.61,1249.66 1999.65,1248.85 2003.70,1248.04 2007.75,1247.24 2011.80,1246.43 2015.85,1245.63 2019.90,1244.83 2023.95,1244.03 2027.99,1243.24 2032.04,1242.45 2036.09,1241.66 2040.14,1240.87 2044.19,1240.08 2048.24,1239.29 2052.28,1238.51 2056.33,1237.72 2060.38,1236.93 2064.43,1236.15 2068.48,1235.36 2072.53,1234.57 2076.58,1233.79 2080.62,1233.00 2084.67,1232.21 2088.72,1231.41 2092.77,1230.62 2096.82,1229.82 2100.87,1229.02 2104.92,1228.22 2108.96,1227.42 2113.01,1226.61 2117.06,1225.80 2121.11,1224.98 2125.16,1224.16 2129.21,1223.34 2133.26,1222.51 2137.30,1221.68 2141.35,1220.84 2145.40,1219.99 2149.45,1219.14 2153.50,1218.29 2157.55,1217.43 2161.59,1216.56 2165.64,1215.69 2169.69,1214.80 2173.74,1213.92 2177.75,1213.03 2181.76,1212.13 2185.77,1211.21 2189.78,1210.29 2193.78,1209.36 2197.79,1208.43 2201.80,1207.48 2205.81,1206.53 2209.82,1205.57 2213.83,1204.60 2217.84,1203.63 2221.85,1202.66 2225.86,1201.67 2229.87,1200.69 2233.87,1199.70 2237.88,1198.71 2241.89,1197.72 2245.90,1196.73 2249.91,1195.74 2253.92,1194.74 2257.93,1193.75 2261.94,1192.76 2265.95,1191.77 2269.96,1190.78 2273.96,1189.80 2277.97,1188.82 2281.98,1187.84 2285.99,1186.87 2290.00,1185.90 2294.00,1184.94 2298.00,1183.97 2298.00,1191.17 2294.00,1192.14 2290.00,1193.10 2285.99,1194.07 2281.98,1195.04 2277.97,1196.02 2273.96,1197.01 2269.96,1197.99 2265.95,1198.98 2261.94,1199.97 2257.93,1200.96 2253.92,1201.96 2249.91,1202.95 2245.90,1203.94 2241.89,1204.93 2237.88,1205.93 2233.87,1206.91 2229.87,1207.90 2225.86,1208.88 2221.85,1209.86 2217.84,1210.83 2213.83,1211.80 2209.82,1212.77 2205.81,1213.72 2201.80,1214.67 2197.79,1215.62 2193.78,1216.55 2189.78,1217.48 2185.77,1218.39 2181.76,1219.30 2177.75,1220.20 2173.74,1221.08 2169.69,1221.97 2165.64,1222.85 2161.59,1223.72 2157.55,1224.59 2153.50,1225.44 2149.45,1226.30 2145.40,1227.15 2141.35,1227.99 2137.30,1228.82 2133.26,1229.65 2129.21,1230.48 2125.16,1231.30 2121.11,1232.12 2117.06,1232.94 2113.01,1233.75 2108.96,1234.55 2104.92,1235.36 2100.87,1236.16 2096.82,1236.96 2092.77,1237.75 2088.72,1238.55 2084.67,1239.34 2080.62,1240.13 2076.58,1240.92 2072.53,1241.71 2068.48,1242.49 2064.43,1243.28 2060.38,1244.06 2056.33,1244.85 2052.28,1245.64 2048.24,1246.42 2044.19,1247.21 2040.14,1248.00 2036.09,1248.79 2032.04,1249.58 2027.99,1250.37 2023.95,1251.17 2019.90,1251.97 2015.85,1252.77 2011.80,1253.57 2007.75,1254.37 2003.70,1255.18 1999.65,1255.99 1995.61,1256.79 1991.56,1257.60 1987.51,1258.41 1983.46,1259.22 1979.41,1260.03 1975.36,1260.85 1971.32,1261.66 1967.27,1262.47 1963.22,1263.28 1959.17,1264.09 1955.12,1264.90 1951.07,1265.71 1947.02,1266.52 1942.98,1267.33 1938.93,1268.14 1934.88,1268.95 1930.83,1269.75 1926.78,1270.55 1922.73,1271.36 1918.68,1272.16 1914.64,1272.96 1910.59,1273.75 1906.54,1274.55 1902.49,1275.34 1898.44,1276.13 1894.39,1276.92 1890.34,1277.70 1886.30,1278.48 1882.25,1279.26 1878.20,1280.03 1874.15,1280.81 1870.10,1281.57 1866.05,1282.34 1862.01,1283.10 1857.96,1283.86 1853.91,1284.61 1849.86,1285.36 1845.81,1286.10 1841.76,1286.84 1837.71,1287.57 1833.67,1288.30 1829.62,1289.02 1825.57,1289.74 1821.52,1290.45 1817.47,1291.16 1813.42,1291.86 1809.38,1292.56 1805.33,1293.26 1801.28,1293.96 1797.23,1294.65 1793.18,1295.34 1789.13,1296.03 1785.08,1296.72 1781.04,1297.40 1776.99,1298.09 1772.94,1298.77 1768.89,1299.46 1764.84,1300.14 1760.79,1300.82 1756.74,1301.51 1752.70,1302.20 1748.65,1302.88 1744.60,1303.57 1740.55,1304.26 1736.50,1304.96 1732.45,1305.65 1728.40,1306.35 1724.36,1307.05 1720.31,1307.76 1716.26,1308.46 1712.21,1309.18 1708.16,1309.90 1704.11,1310.62 1700.07,1311.34 1696.02,1312.08 1691.97,1312.81 1687.92,1313.56 1683.87,1314.31 1679.82,1315.06 1675.77,1315.82 1671.73,1316.58 1667.68,1317.35 1663.63,1318.12 1659.58,1318.89 1655.53,1319.67 1651.48,1320.45 1647.43,1321.23 1643.39,1322.02 1639.34,1322.80 1635.29,1323.59 1631.24,1324.39 1627.19,1325.18 1623.14,1325.98 1619.10,1326.78 1615.05,1327.58 1611.00,1328.38 1606.95,1329.19 1602.90,1329.99 1598.85,1330.80 1594.80,1331.60 1590.76,1332.41 1586.71,1333.22 1582.66,1334.03 1578.61,1334.83 1574.56,1335.64 1570.51,1336.45 1566.46,1337.26 1562.42,1338.06 1558.37,1338.87 1554.32,1339.67 1550.27,1340.48 1546.22,1341.28 1542.17,1342.08 1538.13,1342.88 1534.08,1343.68 1530.03,1344.47 1525.98,1345.27 1521.93,1346.06 1517.88,1346.86 1513.83,1347.67 1509.79,1348.48 1505.74,1349.29 1501.69,1350.11 1497.64,1350.93 1493.59,1351.75 1489.54,1352.57 1485.49,1353.40 1481.45,1354.22 1477.40,1355.05 1473.35,1355.88 1469.30,1356.71 1465.25,1357.53 1461.20,1358.36 1457.16,1359.19 1453.11,1360.01 1449.06,1360.83 1445.01,1361.65 1440.96,1362.47 1436.91,1363.28 1432.86,1364.09 1428.82,1364.90 1424.77,1365.70 1420.72,1366.50 1416.67,1367.29 1412.62,1368.08 1408.57,1368.86 1404.52,1369.64 1400.48,1370.40 1396.43,1371.17 1392.38,1371.92 1388.33,1372.66 1384.28,1373.40 1380.23,1374.13 1376.19,1374.85 1372.14,1375.56 1368.09,1376.26 1364.04,1376.95 1359.99,1377.63 1355.94,1378.30 1351.89,1378.96 1347.85,1379.61 1343.80,1380.25 1339.75,1380.89 1335.70,1381.51 1331.65,1382.13 1327.60,1382.75 1323.55,1383.35 1319.51,1383.96 1315.46,1384.55 1311.41,1385.15 1307.36,1385.73 1303.31,1386.32 1299.26,1386.90 1295.22,1387.48 1291.17,1388.05 1287.12,1388.63 1283.07,1389.20 1279.02,1389.77 1274.97,1390.34 1270.92,1390.92 1266.88,1391.49 1262.83,1392.06 1258.78,1392.64 1254.73,1393.22 1250.68,1393.80 1246.63,1394.38 1242.59,1394.97 1238.54,1395.56 1234.49,1396.15 1230.44,1396.76 1226.39,1397.36 1222.34,1397.97 1218.29,1398.59 1214.25,1399.22 1210.20,1399.85 1206.15,1400.50 1202.10,1401.15 1198.05,1401.80 1194.00,1402.46 1189.95,1403.13 1185.91,1403.80 1181.86,1404.48 1177.81,1405.16 1173.76,1405.85 1169.71,1406.54 1165.66,1407.23 1161.62,1407.93 1157.57,1408.63 1153.52,1409.34 1149.47,1410.04 1145.42,1410.75 1141.37,1411.47 1137.32,1412.18 1133.28,1412.90 1129.23,1413.62 1125.18,1414.34 1121.13,1415.07 1117.08,1415.79 1113.03,1416.52 1108.98,1417.24 1104.94,1417.97 1100.89,1418.70 1096.84,1419.43 1092.79,1420.16 1088.74,1420.89 1084.69,1421.61 1080.64,1422.34 1076.60,1423.07 1072.55,1423.80 1068.50,1424.52 1064.45,1425.25 1060.40,1425.97 1056.35,1426.69 1052.31,1427.41 1048.26,1428.13 1044.21,1428.84 1040.16,1429.55 1036.11,1430.27 1032.06,1430.98 1028.01,1431.69 1023.97,1432.40 1019.92,1433.12 1015.87,1433.83 1011.82,1434.55 1007.77,1435.26 1003.72,1435.98 999.68,1436.70 995.63,1437.41 991.58,1438.13 987.53,1438.85 983.48,1439.56 979.43,1440.28 975.38,1441.00 971.34,1441.71 967.29,1442.43 963.24,1443.15 959.19,1443.86 955.14,1444.58 951.09,1445.29 947.04,1446.01 943.00,1446.72 938.95,1447.44 934.90,1448.15 930.85,1448.86 926.80,1449.58 922.75,1450.29 918.71,1451.00 914.66,1451.71 910.61,1452.42 906.56,1453.12 902.51,1453.83 898.46,1454.54 894.41,1455.24 890.37,1455.95 886.32,1456.65 882.27,1457.35 878.22,1458.05 874.17,1458.75 870.12,1459.46 866.07,1460.16 862.03,1460.87 857.98,1461.58 853.93,1462.30 849.88,1463.01 845.83,1463.72 841.78,1464.44 837.74,1465.16 833.69,1465.87 829.64,1466.59 825.59,1467.30 821.54,1468.02 817.49,1468.73 813.44,1469.45 809.40,1470.16 805.35,1470.87 801.30,1471.58 797.25,1472.29 793.20,1472.99 789.15,1473.69 785.10,1474.39 781.06,1475.08 777.01,1475.77 772.96,1476.46 768.91,1477.15 764.86,1477.82 760.81,1478.50 756.77,1479.17 752.72,1479.83 748.67,1480.49 744.62,1481.15 740.57,1481.79 736.52,1482.43 732.47,1483.07 728.43,1483.70 724.38,1484.32 720.33,1484.93 716.28,1485.54 712.23,1486.14 708.18,1486.73 704.13,1487.32 700.09,1487.90 696.04,1488.47 691.99,1489.04 687.94,1489.61 683.89,1490.17 679.84,1490.73 675.80,1491.28 671.75,1491.82 667.70,1492.37 663.65,1492.91 659.60,1493.44 655.55,1493.98 651.50,1494.51 647.46,1495.04 643.41,1495.56 639.36,1496.09 635.31,1496.61 631.26,1497.13 627.21,1497.65 623.16,1498.16 619.12,1498.68 615.07,1499.20 611.02,1499.71 606.97,1500.23 602.92,1500.74 598.87,1501.26 594.83,1501.78 590.78,1502.29 586.73,1502.81 582.68,1503.33 578.63,1503.85 574.58,1504.38 570.53,1504.90 566.49,1505.43 562.44,1505.96 558.39,1506.49 554.34,1507.01 392.50,1507.00"/>
<polygon fill="#ff00ff" points="392.50,1500.00 554.34,1499.98 558.39,1499.12 562.44,1498.30 566.49,1497.49 570.53,1496.68 574.58,1495.86 578.63,1495.05 582.68,1494.24 586.73,1493.42 590.78,1492.61 594.83,1491.79 598.87,1490.98 602.92,1490.16 606.97,1489.35 611.02,1488.53 615.07,1487.72 619.12,1486.91 623.16,1486.09 627.21,1485.28 631.26,1484.46 635.31,1483.65 639.36,1482.83 643.41,1482.02 647.46,1481.21 651.50,1480.39 655.55,1479.58 659.60,1478.77 663.65,1477.96 667.70,1477.14 671.75,1476.33 675.80,1475.52 679.84,1474.71 683.89,1473.90 687.94,1473.09 691.99,1472.28 696.04,1471.47 700.09,1470.66 704.13,1469.85 708.18,1469.04 712.23,1468.24 716.28,1467.43 720.33,1466.63 724.38,1465.82 728.43,1465.02 732.47,1464.22 736.52,1463.43 740.57,1462.63 744.62,1461.84 748.67,1461.04 752.72,1460.25 756.77,1459.46 760.81,1458.67 764.86,1457.88 768.91,1457.09 772.96,1456.30 777.01,1455.52 781.06,1454.73 785.10,1453.94 789.15,1453.15 793.20,1452.36 797.25,1451.57 801.30,1450.78 805.35,1449.99 809.40,1449.20 813.44,1448.40 817.49,1447.61 821.54,1446.81 825.59,1446.01 829.64,1445.21 833.69,1444.41 837.74,1443.61 841.78,1442.80 845.83,1441.99 849.88,1441.18 853.93,1440.37 857.98,1439.55 862.03,1438.74 866.07,1437.91 870.12,1437.09 874.17,1436.26 878.22,1435.43 882.27,1434.59 886.32,1433.75 890.37,1432.91 894.41,1432.07 898.46,1431.22 902.51,1430.37 906.56,1429.51 910.61,1428.66 914.66,1427.80 918.71,1426.94 922.75,1426.08 926.80,1425.21 930.85,1424.35 934.90,1423.48 938.95,1422.61 943.00,1421.74 947.04,1420.87 951.09,1419.99 955.14,1419.12 959.19,1418.24 963.24,1417.36 967.29,1416.48 971.34,1415.60 975.38,1414.72 979.43,1413.84 983.48,1412.96 987.53,1412.08 991.58,1411.19 995.63,1410.31 999.68,1409.43 1003.72,1408.55 1007.77,1407.66 1011.82,1406.78 1015.87,1405.90 1019.92,1405.02 1023.97,1404.14 1028.01,1403.25 1032.06,1402.38 1036.11,1401.50 1040.16,1400.62 1044.21,1399.74 1048.26,1398.87 1052.31,1397.99 1056.35,1397.12 1060.40,1396.25 1064.45,1395.37 1068.50,1394.50 1072.55,1393.63 1076.60,1392.76 1080.64,1391.89 1084.69,1391.02 1088.74,1390.14 1092.79,1389.27 1096.84,1388.40 1100.89,1387.53 1104.94,1386.65 1108.98,1385.78 1113.03,1384.91 1117.08,1384.03 1121.13,1383.15 1125.18,1382.28 1129.23,1381.40 1133.28,1380.52 1137.32,1379.63 1141.37,1378.75 1145.42,1377.86 1149.47,1376.98 1153.52,1376.09 1157.57,1375.20 1161.62,1374.30 1165.66,1373.41 1169.71,1372.51 1173.76,1371.60 1177.81,1370.70 1181.86,1369.79 1185.91,1368.88 1189.95,1367.97 1194.00,1367.05 1198.05,1366.13 1202.10,1365.21 1206.15,1364.28 1210.20,1363.35 1214.25,1362.42 1218.29,1361.48 1222.34,1360.54 1226.39,1359.59 1230.44,1358.64 1234.49,1357.69 1238.54,1356.74 1242.59,1355.78 1246.63,1354.82 1250.68,1353.86 1254.73,1352.89 1258.78,1351.92 1262.83,1350.95 1266.88,1349.98 1270.92,1349.01 1274.97,1348.04 1279.02,1347.06 1283.07,1346.08 1287.12,1345.11 1291.17,1344.13 1295.22,1343.15 1299.26,1342.17 1303.31,1341.18 1307.36,1340.20 1311.41,1339.22 1315.46,1338.24 1319.51,1337.26 1323.55,1336.28 1327.60,1335.29 1331.65,1334.31 1335.70,1333.33 1339.75,1332.35 1343.80,1331.37 1347.85,1330.40 1351.89,1329.42 1355.94,1328.45 1359.99,1327.47 1364.04,1326.50 1368.09,1325.53 1372.14,1324.55 1376.19,1323.57 1380.23,1322.59 1384.28,1321.61 1388.33,1320.62 1392.38,1319.64 1396.43,1318.65 1400.48,1317.66 1404.52,1316.67 1408.57,1315.68 1412.62,1314.69 1416.67,1313.70 1420.72,1312.71 1424.77,1311.71 1428.82,1310.72 1432.86,1309.73 1436.91,1308.74 1440.96,1307.75 1445.01,1306.76 1449.06,1305.77 1453.11,1304.79 1457.16,1303.80 1461.20,1302.82 1465.25,1301.84 1469.30,1300.86 1473.35,1299.88 1477.40,1298.91 1481.45,1297.94 1485.49,1296.97 1489.54,1296.01 1493.59,1295.05 1497.64,1294.09 1501.69,1293.13 1505.74,1292.19 1509.79,1291.24 1513.83,1290.30 1517.88,1289.37 1521.93,1288.44 1525.98,1287.51 1530.03,1286.59 1534.08,1285.68 1538.13,1284.77 1542.17,1283.87 1546.22,1282.98 1550.27,1282.09 1554.32,1281.20 1558.37,1280.32 1562.42,1279.44 1566.46,1278.57 1570.51,1277.70 1574.56,1276.83 1578.61,1275.97 1582.66,1275.11 1586.71,1274.25 1590.76,1273.39 1594.80,1272.53 1598.85,1271.68 1602.90,1270.82 1606.95,1269.97 1611.00,1269.11 1615.05,1268.26 1619.10,1267.40 1623.14,1266.54 1627.19,1265.69 1631.24,1264.83 1635.29,1263.96 1639.34,1263.10 1643.39,1262.23 1647.43,1261.36 1651.48,1260.49 1655.53,1259.61 1659.58,1258.73 1663.63,1257.84 1667.68,1256.95 1671.73,1256.05 1675.77,1255.15 1679.82,1254.24 1683.87,1253.33 1687.92,1252.41 1691.97,1251.48 1696.02,1250.55 1700.07,1249.62 1704.11,1248.68 1708.16,1247.73 1712.21,1246.78 1716.26,1245.83 1720.31,1244.87 1724.36,1243.91 1728.40,1242.94 1732.45,1241.98 1736.50,1241.01 1740.55,1240.03 1744.60,1239.06 1748.65,1238.08 1752.70,1237.10 1756.74,1236.12 1760.79,1235.13 1764.84,1234.15 1768.89,1233.16 1772.94,1232.17 1776.99,1231.18 1781.04,1230.19 1785.08,1229.21 1789.13,1228.22 1793.18,1227.23 1797.23,1226.24 1801.28,1225.25 1805.33,1224.26 1809.38,1223.27 1813.42,1222.29 1817.47,1221.30 1821.52,1220.32 1825.57,1219.34 1829.62,1218.36 1833.67,1217.38 1837.71,1216.41 1841.76,1215.44 1845.81,1214.47 1849.86,1213.50 1853.91,1212.54 1857.96,1211.57 1862.01,1210.61 1866.05,1209.64 1870.10,1208.68 1874.15,1207.71 1878.20,1206.75 1882.25,1205.78 1886.30,1204.82 1890.34,1203.85 1894.39,1202.89 1898.44,1201.92 1902.49,1200.96 1906.54,1200.00 1910.59,1199.03 1914.64,1198.07 1918.68,1197.11 1922.73,1196.15 1926.78,1195.19 1930.83,1194.23 1934.88,1193.27 1938.93,1192.31 1942.98,1191.35 1947.02,1190.39 1951.07,1189.44 1955.12,1188.48 1959.17,1187.52 1963.22,1186.57 1967.27,1185.62 1971.32,1184.67 1975.36,1183.71 1979.41,1182.76 1983.46,1181.82 1987.51,1180.87 1991.56,1179.92 1995.61,1178.98 1999.65,1178.03 2003.70,1177.09 2007.75,1176.15 2011.80,1175.21 2015.85,1174.27 2019.90,1173.34 2023.95,1172.42 2027.99,1171.51 2032.04,1170.60 2036.09,1169.69 2040.14,1168.79 2044.19,1167.89 2048.24,1167.00 2052.28,1166.11 2056.33,1165.22 2060.38,1164.33 2064.43,1163.45 2068.48,1162.56 2072.53,1161.68 2076.58,1160.79 2080.62,1159.91 2084.67,1159.02 2088.72,1158.13 2092.77,1157.25 2096.82,1156.35 2100.87,1155.46 2104.92,1154.56 2108.96,1153.66 2113.01,1152.75 2117.06,1151.84 2121.11,1150.92 2125.16,1150.00 2129.21,1149.07 2133.26,1148.14 2137.30,1147.19 2141.35,1146.24 2145.40,1145.28 2149.45,1144.31 2153.50,1143.33 2157.55,1142.35 2161.59,1141.35 2165.64,1140.34 2169.69,1139.32 2173.74,1138.29 2177.75,1137.25 2181.76,1136.20 2185.77,1135.13 2189.78,1134.04 2193.78,1132.94 2197.79,1131.83 2201.80,1130.71 2205.81,1129.58 2209.82,1128.44 2213.83,1127.28 2217.84,1126.12 2221.85,1124.95 2225.86,1123.78 2229.87,1122.60 2233.87,1121.42 2237.88,1120.23 2241.89,1119.04 2245.90,1117.84 2249.91,1116.65 2253.92,1115.46 2257.93,1114.26 2261.94,1113.07 2265.95,1111.88 2269.96,1110.70 2273.96,1109.52 2277.97,1108.34 2281.98,1107.17 2285.99,1106.01 2290.00,1104.86 2294.00,1103.71 2298.00,1102.56 2298.00,1109.84 2294.00,1110.99 2290.00,1112.14 2285.99,1113.30 2281.98,1114.47 2277.97,1115.64 2273.96,1116.82 2269.96,1118.00 2265.95,1119.19 2261.94,1120.38 2257.93,1121.57 2253.92,1122.76 2249.91,1123.95 2245.90,1125.15 2241.89,1126.34 2237.88,1127.53 2233.87,1128.72 2229.87,1129.90 2225.86,1131.08 2221.85,1132.25 2217.84,1133.41 2213.83,1134.57 2209.82,1135.72 2205.81,1136.85 2201.80,1137.98 2197.79,1139.10 2193.78,1140.20 2189.78,1141.30 2185.77,1142.37 2181.76,1143.44 2177.75,1144.48 2173.74,1145.51 2169.69,1146.54 2165.64,1147.55 2161.59,1148.56 2157.55,1149.55 2153.50,1150.54 2149.45,1151.51 2145.40,1152.48 2141.35,1153.43 2137.30,1154.38 2133.26,1155.32 2129.21,1156.25 2125.16,1157.18 2121.11,1158.10 2117.06,1159.02 2113.01,1159.93 2108.96,1160.83 2104.92,1161.73 2100.87,1162.63 2096.82,1163.52 2092.77,1164.41 2088.72,1165.30 2084.67,1166.19 2080.62,1167.07 2076.58,1167.96 2072.53,1168.84 2068.48,1169.73 2064.43,1170.61 2060.38,1171.50 2056.33,1172.38 2052.28,1173.27 2048.24,1174.17 2044.19,1175.06 2040.14,1175.96 2036.09,1176.86 2032.04,1177.77 2027.99,1178.68 2023.95,1179.60 2019.90,1180.53 2015.85,1181.46 2011.80,1182.39 2007.75,1183.33 2003.70,1184.28 1999.65,1185.22 1995.61,1186.16 1991.56,1187.11 1987.51,1188.06 1983.46,1189.00 1979.41,1189.95 1975.36,1190.90 1971.32,1191.86 1967.27,1192.81 1963.22,1193.76 1959.17,1194.72 1955.12,1195.67 1951.07,1196.63 1947.02,1197.59 1942.98,1198.54 1938.93,1199.50 1934.88,1200.46 1930.83,1201.42 1926.78,1202.38 1922.73,1203.34 1918.68,1204.30 1914.64,1205.27 1910.59,1206.23 1906.54,1207.19 1902.49,1208.16 1898.44,1209.12 1894.39,1210.08 1890.34,1211.05 1886.30,1212.01 1882.25,1212.98 1878.20,1213.94 1874.15,1214.91 1870.10,1215.87 1866.05,1216.84 1862.01,1217.80 1857.96,1218.77 1853.91,1219.73 1849.86,1220.70 1845.81,1221.67 1841.76,1222.64 1837.71,1223.61 1833.67,1224.58 1829.62,1225.56 1825.57,1226.54 1821.52,1227.52 1817.47,1228.51 1813.42,1229.49 1809.38,1230.48 1805.33,1231.47 1801.28,1232.45 1797.23,1233.44 1793.18,1234.43 1789.13,1235.42 1785.08,1236.41 1781.04,1237.40 1776.99,1238.39 1772.94,1239.38 1768.89,1240.36 1764.84,1241.35 1760.79,1242.34 1756.74,1243.32 1752.70,1244.30 1748.65,1245.28 1744.60,1246.26 1740.55,1247.23 1736.50,1248.20 1732.45,1249.17 1728.40,1250.14 1724.36,1251.10 1720.31,1252.06 1716.26,1253.02 1712.21,1253.97 1708.16,1254.92 1704.11,1255.86 1700.07,1256.80 1696.02,1257.74 1691.97,1258.67 1687.92,1259.59 1683.87,1260.51 1679.82,1261.42 1675.77,1262.32 1671.73,1263.22 1667.68,1264.12 1663.63,1265.01 1659.58,1265.89 1655.53,1266.77 1651.48,1267.65 1647.43,1268.52 1643.39,1269.39 1639.34,1270.26 1635.29,1271.12 1631.24,1271.98 1627.19,1272.84 1623.14,1273.70 1619.10,1274.56 1615.05,1275.41 1611.00,1276.27 1606.95,1277.12 1602.90,1277.98 1598.85,1278.83 1594.80,1279.69 1590.76,1280.54 1586.71,1281.40 1582.66,1282.26 1578.61,1283.13 1574.56,1283.99 1570.51,1284.86 1566.46,1285.73 1562.42,1286.60 1558.37,1287.48 1554.32,1288.37 1550.27,1289.25 1546.22,1290.14 1542.17,1291.04 1538.13,1291.94 1534.08,1292.85 1530.03,1293.77 1525.98,1294.69 1521.93,1295.62 1517.88,1296.55 1513.83,1297.49 1509.79,1298.43 1505.74,1299.38 1501.69,1300.33 1497.64,1301.28 1493.59,1302.24 1489.54,1303.20 1485.49,1304.17 1481.45,1305.14 1477.40,1306.11 1473.35,1307.08 1469.30,1308.06 1465.25,1309.04 1461.20,1310.02 1457.16,1311.00 1453.11,1311.99 1449.06,1312.98 1445.01,1313.97 1440.96,1314.95 1436.91,1315.95 1432.86,1316.94 1428.82,1317.93 1424.77,1318.92 1420.72,1319.91 1416.67,1320.90 1412.62,1321.90 1408.57,1322.89 1404.52,1323.88 1400.48,1324.87 1396.43,1325.86 1392.38,1326.84 1388.33,1327.83 1384.28,1328.81 1380.23,1329.80 1376.19,1330.77 1372.14,1331.75 1368.09,1332.73 1364.04,1333.70 1359.99,1334.67 1355.94,1335.65 1351.89,1336.62 1347.85,1337.60 1343.80,1338.58 1339.75,1339.56 1335.70,1340.53 1331.65,1341.52 1327.60,1342.50 1323.55,1343.48 1319.51,1344.46 1315.46,1345.44 1311.41,1346.42 1307.36,1347.41 1303.31,1348.39 1299.26,1349.37 1295.22,1350.35 1291.17,1351.33 1287.12,1352.31 1283.07,1353.28 1279.02,1354.26 1274.97,1355.24 1270.92,1356.21 1266.88,1357.18 1262.83,1358.15 1258.78,1359.12 1254.73,1360.09 1250.68,1361.05 1246.63,1362.01 1242.59,1362.97 1238.54,1363.93 1234.49,1364.88 1230.44,1365.83 1226.39,1366.78 1222.34,1367.72 1218.29,1368.66 1214.25,1369.60 1210.20,1370.53 1206.15,1371.46 1202.10,1372.39 1198.05,1373.31 1194.00,1374.23 1189.95,1375.15 1185.91,1376.06 1181.86,1376.97 1177.81,1377.87 1173.76,1378.78 1169.71,1379.68 1165.66,1380.57 1161.62,1381.47 1157.57,1382.36 1153.52,1383.25 1149.47,1384.14 1145.42,1385.03 1141.37,1385.92 1137.32,1386.80 1133.28,1387.68 1129.23,1388.56 1125.18,1389.44 1121.13,1390.32 1117.08,1391.19 1113.03,1392.07 1108.98,1392.94 1104.94,1393.82 1100.89,1394.69 1096.84,1395.56 1092.79,1396.43 1088.74,1397.30 1084.69,1398.18 1080.64,1399.05 1076.60,1399.92 1072.55,1400.79 1068.50,1401.66 1064.45,1402.53 1060.40,1403.41 1056.35,1404.28 1052.31,1405.15 1048.26,1406.03 1044.21,1406.90 1040.16,1407.78 1036.11,1408.66 1032.06,1409.54 1028.01,1410.42 1023.97,1411.30 1019.92,1412.18 1015.87,1413.06 1011.82,1413.94 1007.77,1414.83 1003.72,1415.71 999.68,1416.59 995.63,1417.48 991.58,1418.36 987.53,1419.24 983.48,1420.12 979.43,1421.00 975.38,1421.88 971.34,1422.77 967.29,1423.64 963.24,1424.52 959.19,1425.40 955.14,1426.28 951.09,1427.15 947.04,1428.03 943.00,1428.90 938.95,1429.77 934.90,1430.64 930.85,1431.51 926.80,1432.37 922.75,1433.24 918.71,1434.10 914.66,1434.96 910.61,1435.81 906.56,1436.67 902.51,1437.52 898.46,1438.37 894.41,1439.22 890.37,1440.06 886.32,1440.90 882.27,1441.74 878.22,1442.57 874.17,1443.40 870.12,1444.23 866.07,1445.06 862.03,1445.88 857.98,1446.70 853.93,1447.51 849.88,1448.32 845.83,1449.13 841.78,1449.94 837.74,1450.75 833.69,1451.55 829.64,1452.35 825.59,1453.15 821.54,1453.95 817.49,1454.74 813.44,1455.54 809.40,1456.33 805.35,1457.12 801.30,1457.91 797.25,1458.70 793.20,1459.49 789.15,1460.28 785.10,1461.07 781.06,1461.86 777.01,1462.65 772.96,1463.44 768.91,1464.22 764.86,1465.01 760.81,1465.80 756.77,1466.59 752.72,1467.39 748.67,1468.18 744.62,1468.97 740.57,1469.77 736.52,1470.56 732.47,1471.36 728.43,1472.16 724.38,1472.96 720.33,1473.76 716.28,1474.57 712.23,1475.38 708.18,1476.18 704.13,1476.99 700.09,1477.80 696.04,1478.61 691.99,1479.42 687.94,1480.23 683.89,1481.04 679.84,1481.85 675.80,1482.66 671.75,1483.47 667.70,1484.28 663.65,1485.09 659.60,1485.91 655.55,1486.72 651.50,1487.53 647.46,1488.35 643.41,1489.16 639.36,1489.97 635.31,1490.79 631.26,1491.60 627.21,1492.42 623.16,1493.23 619.12,1494.05 615.07,1494.86 611.02,1495.68 606.97,1496.49 602.92,1497.30 598.87,1498.12 594.83,1498.93 590.78,1499.75 586.73,1500.56 582.68,1501.38 578.63,1502.19 574.58,1503.00 570.53,1503.82 566.49,1504.63 562.44,1505.44 558.39,1506.26 554.34,1507.02 392.50,1507.00"/>
</g>
<g clip-path="url(#pc)">
<rect x="378.4" y="1487.7" width="31.8" height="31.6" fill="#ff0000"/>
<rect x="540.3" y="1487.7" width="31.8" height="31.6" fill="#ff0000"/>
<rect x="702.3" y="1426.2" width="31.8" height="31.6" fill="#ff0000"/>
<rect x="864.2" y="1345.5" width="31.8" height="31.6" fill="#ff0000"/>
<rect x="1026.2" y="1253.9" width="31.8" height="31.6" fill="#ff0000"/>
<rect x="1188.1" y="1148.1" width="31.8" height="31.6" fill="#ff0000"/>
<rect x="1350.0" y="1035.3" width="31.8" height="31.6" fill="#ff0000"/>
<rect x="1512.0" y="912.2" width="31.8" height="31.6" fill="#ff0000"/>
<rect x="1673.9" y="785.3" width="31.8" height="31.6" fill="#ff0000"/>
<rect x="1835.9" y="651.6" width="31.8" height="31.6" fill="#ff0000"/>
<rect x="1997.8" y="517.9" width="31.8" height="31.6" fill="#ff0000"/>
<rect x="2159.7" y="384.0" width="31.8" height="31.6" fill="#ff0000"/>
<circle cx="391.8" cy="1503.5" r="15.8" fill="#0000ff"/>
<circle cx="553.7" cy="1503.5" r="15.8" fill="#0000ff"/>
<circle cx="715.7" cy="1478.0" r="15.8" fill="#0000ff"/>
<circle cx="877.6" cy="1448.0" r="15.8" fill="#0000ff"/>
<circle cx="1039.6" cy="1416.0" r="15.8" fill="#0000ff"/>
<circle cx="1201.5" cy="1383.0" r="15.8" fill="#0000ff"/>
<circle cx="1363.4" cy="1350.6" r="15.8" fill="#0000ff"/>
<circle cx="1525.4" cy="1313.5" r="15.8" fill="#0000ff"/>
<circle cx="1687.3" cy="1273.2" r="15.8" fill="#0000ff"/>
<circle cx="1849.3" cy="1238.2" r="15.8" fill="#0000ff"/>
<circle cx="2011.2" cy="1199.3" r="15.8" fill="#0000ff"/>
<circle cx="2173.1" cy="1160.7" r="15.8" fill="#0000ff"/>
<polygon fill="#00ff00" points="392.4,1482.7 413.5,1517.7 371.3,1517.7"/>
<polygon fill="#00ff00" points="554.3,1482.7 575.4,1517.7 533.2,1517.7"/>
<polygon fill="#00ff00" points="716.3,1458.2 737.4,1493.2 695.2,1493.2"/>
<polygon fill="#00ff00" points="878.2,1433.7 899.3,1468.7 857.1,1468.7"/>
<polygon fill="#00ff00" points="1040.2,1405.2 1061.3,1440.2 1019.1,1440.2"/>
<polygon fill="#00ff00" points="1202.1,1376.8 1223.2,1411.8 1181.0,1411.8"/>
<polygon fill="#00ff00" points="1364.0,1352.6 1385.1,1387.6 1342.9,1387.6"/>
<polygon fill="#00ff00" points="1526.0,1320.9 1547.1,1355.9 1504.9,1355.9"/>
<polygon fill="#00ff00" points="1687.9,1289.2 1709.0,1324.2 1666.8,1324.2"/>
<polygon fill="#00ff00" points="1849.9,1261.0 1871.0,1296.0 1828.8,1296.0"/>
<polygon fill="#00ff00" points="2011.8,1229.2 2032.9,1264.2 1990.7,1264.2"/>
<polygon fill="#00ff00" points="2173.7,1194.2 2194.8,1229.2 2152.6,1229.2"/>
<polygon fill="#ff00ff" points="371.3,1493.0 413.5,1493.0 392.4,1528.0"/>
<polygon fill="#ff00ff" points="533.2,1493.0 575.4,1493.0 554.3,1528.0"/>
<polygon fill="#ff00ff" points="695.2,1458.0 737.4,1458.0 716.3,1493.0"/>
<polygon fill="#ff00ff" points="857.1,1425.7 899.3,1425.7 878.2,1460.7"/>
<polygon fill="#ff00ff" points="1019.1,1390.9 1061.3,1390.9 1040.2,1425.9"/>
<polygon fill="#ff00ff" points="1181.0,1355.5 1223.2,1355.5 1202.1,1390.5"/>
<polygon fill="#ff00ff" points="1342.9,1316.8 1385.1,1316.8 1364.0,1351.8"/>
<polygon fill="#ff00ff" points="1504.9,1277.8 1547.1,1277.8 1526.0,1312.8"/>
<polygon fill="#ff00ff" points="1666.8,1242.7 1709.0,1242.7 1687.9,1277.7"/>
<polygon fill="#ff00ff" points="1828.8,1203.8 1871.0,1203.8 1849.9,1238.8"/>
<polygon fill="#ff00ff" points="1990.7,1165.5 2032.9,1165.5 2011.8,1200.5"/>
<polygon fill="#ff00ff" points="2152.6,1126.5 2194.8,1126.5 2173.7,1161.5"/>
</g>
<g font-family='"Liberation Sans", Arial, sans-serif' font-size="60" letter-spacing="0.6" fill="#000">
<text x="359" y="1520.3" text-anchor="end">0</text>
<text x="359" y="1342.1" text-anchor="end">10,000</text>
<text x="359" y="1162.1" text-anchor="end">20,000</text>
<text x="359" y="979.1" text-anchor="end">30,000</text>
<text x="359" y="799.1" text-anchor="end">40,000</text>
<text x="359" y="619.7" text-anchor="end">50,000</text>
<text x="359" y="436.7" text-anchor="end">60,000</text>
<text x="359" y="256.5" text-anchor="end">70,000</text>
<text x="359" y="77.2" text-anchor="end">80,000</text>
<text x="391.5" y="1581" text-anchor="middle">0.0</text>
<text x="714.8" y="1581" text-anchor="middle">0.2</text>
<text x="1038.2" y="1581" text-anchor="middle">0.4</text>
<text x="1361.5" y="1581" text-anchor="middle">0.6</text>
<text x="1684.9" y="1581" text-anchor="middle">0.8</text>
<text x="2008.2" y="1581" text-anchor="middle">1.0</text>
<text x="2331.5" y="1581" text-anchor="middle">1.2</text>
</g>
<text x="1186" y="1676" font-family='"Liberation Sans", Arial, sans-serif' font-size="74" fill="#000"><tspan>T</tspan><tspan dx="3">ime (sec</tspan><tspan dx="5">)</tspan></text>
<text transform="translate(121,1206) rotate(-90)" font-family='"Liberation Sans", Arial, sans-serif' font-size="74" fill="#000">Shear intensity (W/m<tspan font-size="54" dx="-3" dy="-32">2</tspan><tspan dx="2" dy="32">)</tspan></text>
<rect x="475.75" y="139.75" width="460.5" height="333.5" fill="#fff" stroke="#000" stroke-width="3.5"/>
<rect x="494.2" y="179.8" width="155.3" height="7" fill="#ff0000"/>
<rect x="554.4" y="169.3" width="31.7" height="28" fill="#ff0000"/>
<text transform="translate(664,207.2) scale(0.971,1)" font-family='"Liberation Sans", Arial, sans-serif' font-size="69" fill="#000">Section1</text>
<rect x="494.2" y="264.0" width="155.3" height="7" fill="#0000ff"/>
<circle cx="570.2" cy="267.5" r="15.8" fill="#0000ff"/>
<text transform="translate(664,288.0) scale(0.971,1)" font-family='"Liberation Sans", Arial, sans-serif' font-size="69" fill="#000">Section2</text>
<rect x="494.2" y="345.0" width="155.3" height="7" fill="#00ff00"/>
<polygon fill="#00ff00" points="570.2,327.7 591.3,362.7 549.1,362.7"/>
<text transform="translate(664,372.7) scale(0.971,1)" font-family='"Liberation Sans", Arial, sans-serif' font-size="69" fill="#000">Section3</text>
<rect x="494.2" y="429.8" width="155.3" height="7" fill="#ff00ff"/>
<polygon fill="#ff00ff" points="549.1,422.8 591.3,422.8 570.2,457.8"/>
<text transform="translate(664,453.5) scale(0.971,1)" font-family='"Liberation Sans", Arial, sans-serif' font-size="69" fill="#000">Section4</text>
</svg></body></html>
